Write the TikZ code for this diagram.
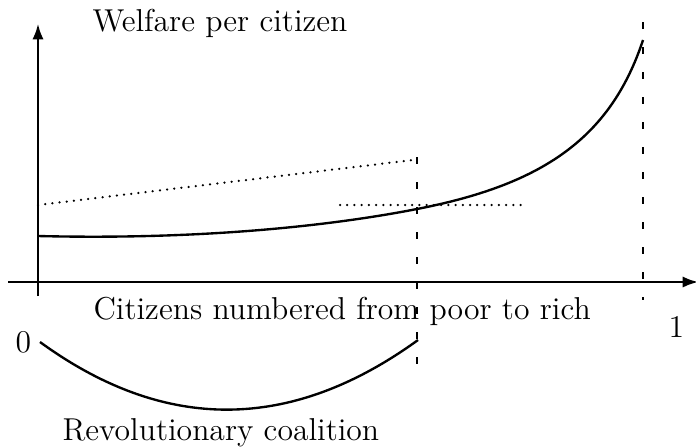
\documentclass[tikz,border=0pt]{standalone}
\usetikzlibrary{arrows.meta}
\begin{document}
\begin{tikzpicture}[x=0.36pt,y=-0.36pt,
  axis/.style={line width=0.7pt,-{Latex[length=5.5pt,width=4pt]}},
  curve/.style={line width=0.85pt},
  dotline/.style={line width=0.9pt,line cap=round,dash pattern=on 0pt off 2.6pt},
  dashline/.style={line width=0.7pt,dash pattern=on 2.5pt off 6.5pt},
  lbl/.style={inner sep=0pt,anchor=base west,font=\fontsize{11.4}{13}\selectfont}]
\useasboundingbox (0,0) rectangle (696,447);
% axes
\coordinate (ybot) at (38,296);
\coordinate (ytop) at (38,24);
\coordinate (xl) at (8,282);
\coordinate (xr) at (698,282);
\draw[axis] (ybot) -- (ytop);
\draw[axis] (xl) -- (xr);
% dashed verticals
\coordinate (d1t) at (417,157);
\coordinate (d1b) at (417,374);
\coordinate (d2t) at (643,22);
\coordinate (d2b) at (643,300);
\draw[dashline] (d1t) -- (d1b);
\draw[dashline] (d2t) -- (d2b);
% dotted lines
\coordinate (s1) at (38,205);
\coordinate (s2) at (413,160);
\draw[dotline] (s1) -- (s2);
\coordinate (h1) at (340,205);
\coordinate (h2) at (523,205);
\draw[dotline] (h1) -- (h2);
% welfare curve
\coordinate (w0) at (38,236);
\coordinate (w1) at (417,209);
\coordinate (w2) at (643,40);
\draw[curve] (w0) .. controls (200,240) and (330,226) .. (w1)
  .. controls (540,185) and (610,140) .. (w2);
% coalition curve
\coordinate (c1) at (40,342);
\coordinate (c2) at (418,340);
\draw[curve] (c1) .. controls (165,433) and (291,432) .. (c2);
% labels
\node[lbl] (wel) at (92,31) {Welfare per citizen};
\node[lbl] (cit) at (93,319) {Citizens numbered from poor to rich};
\node[lbl] (zero) at (15,352) {0};
\node[lbl] (one) at (668,337) {1};
\node[lbl] (rev) at (62,440) {Revolutionary coalition};
\end{tikzpicture}
\end{document}
